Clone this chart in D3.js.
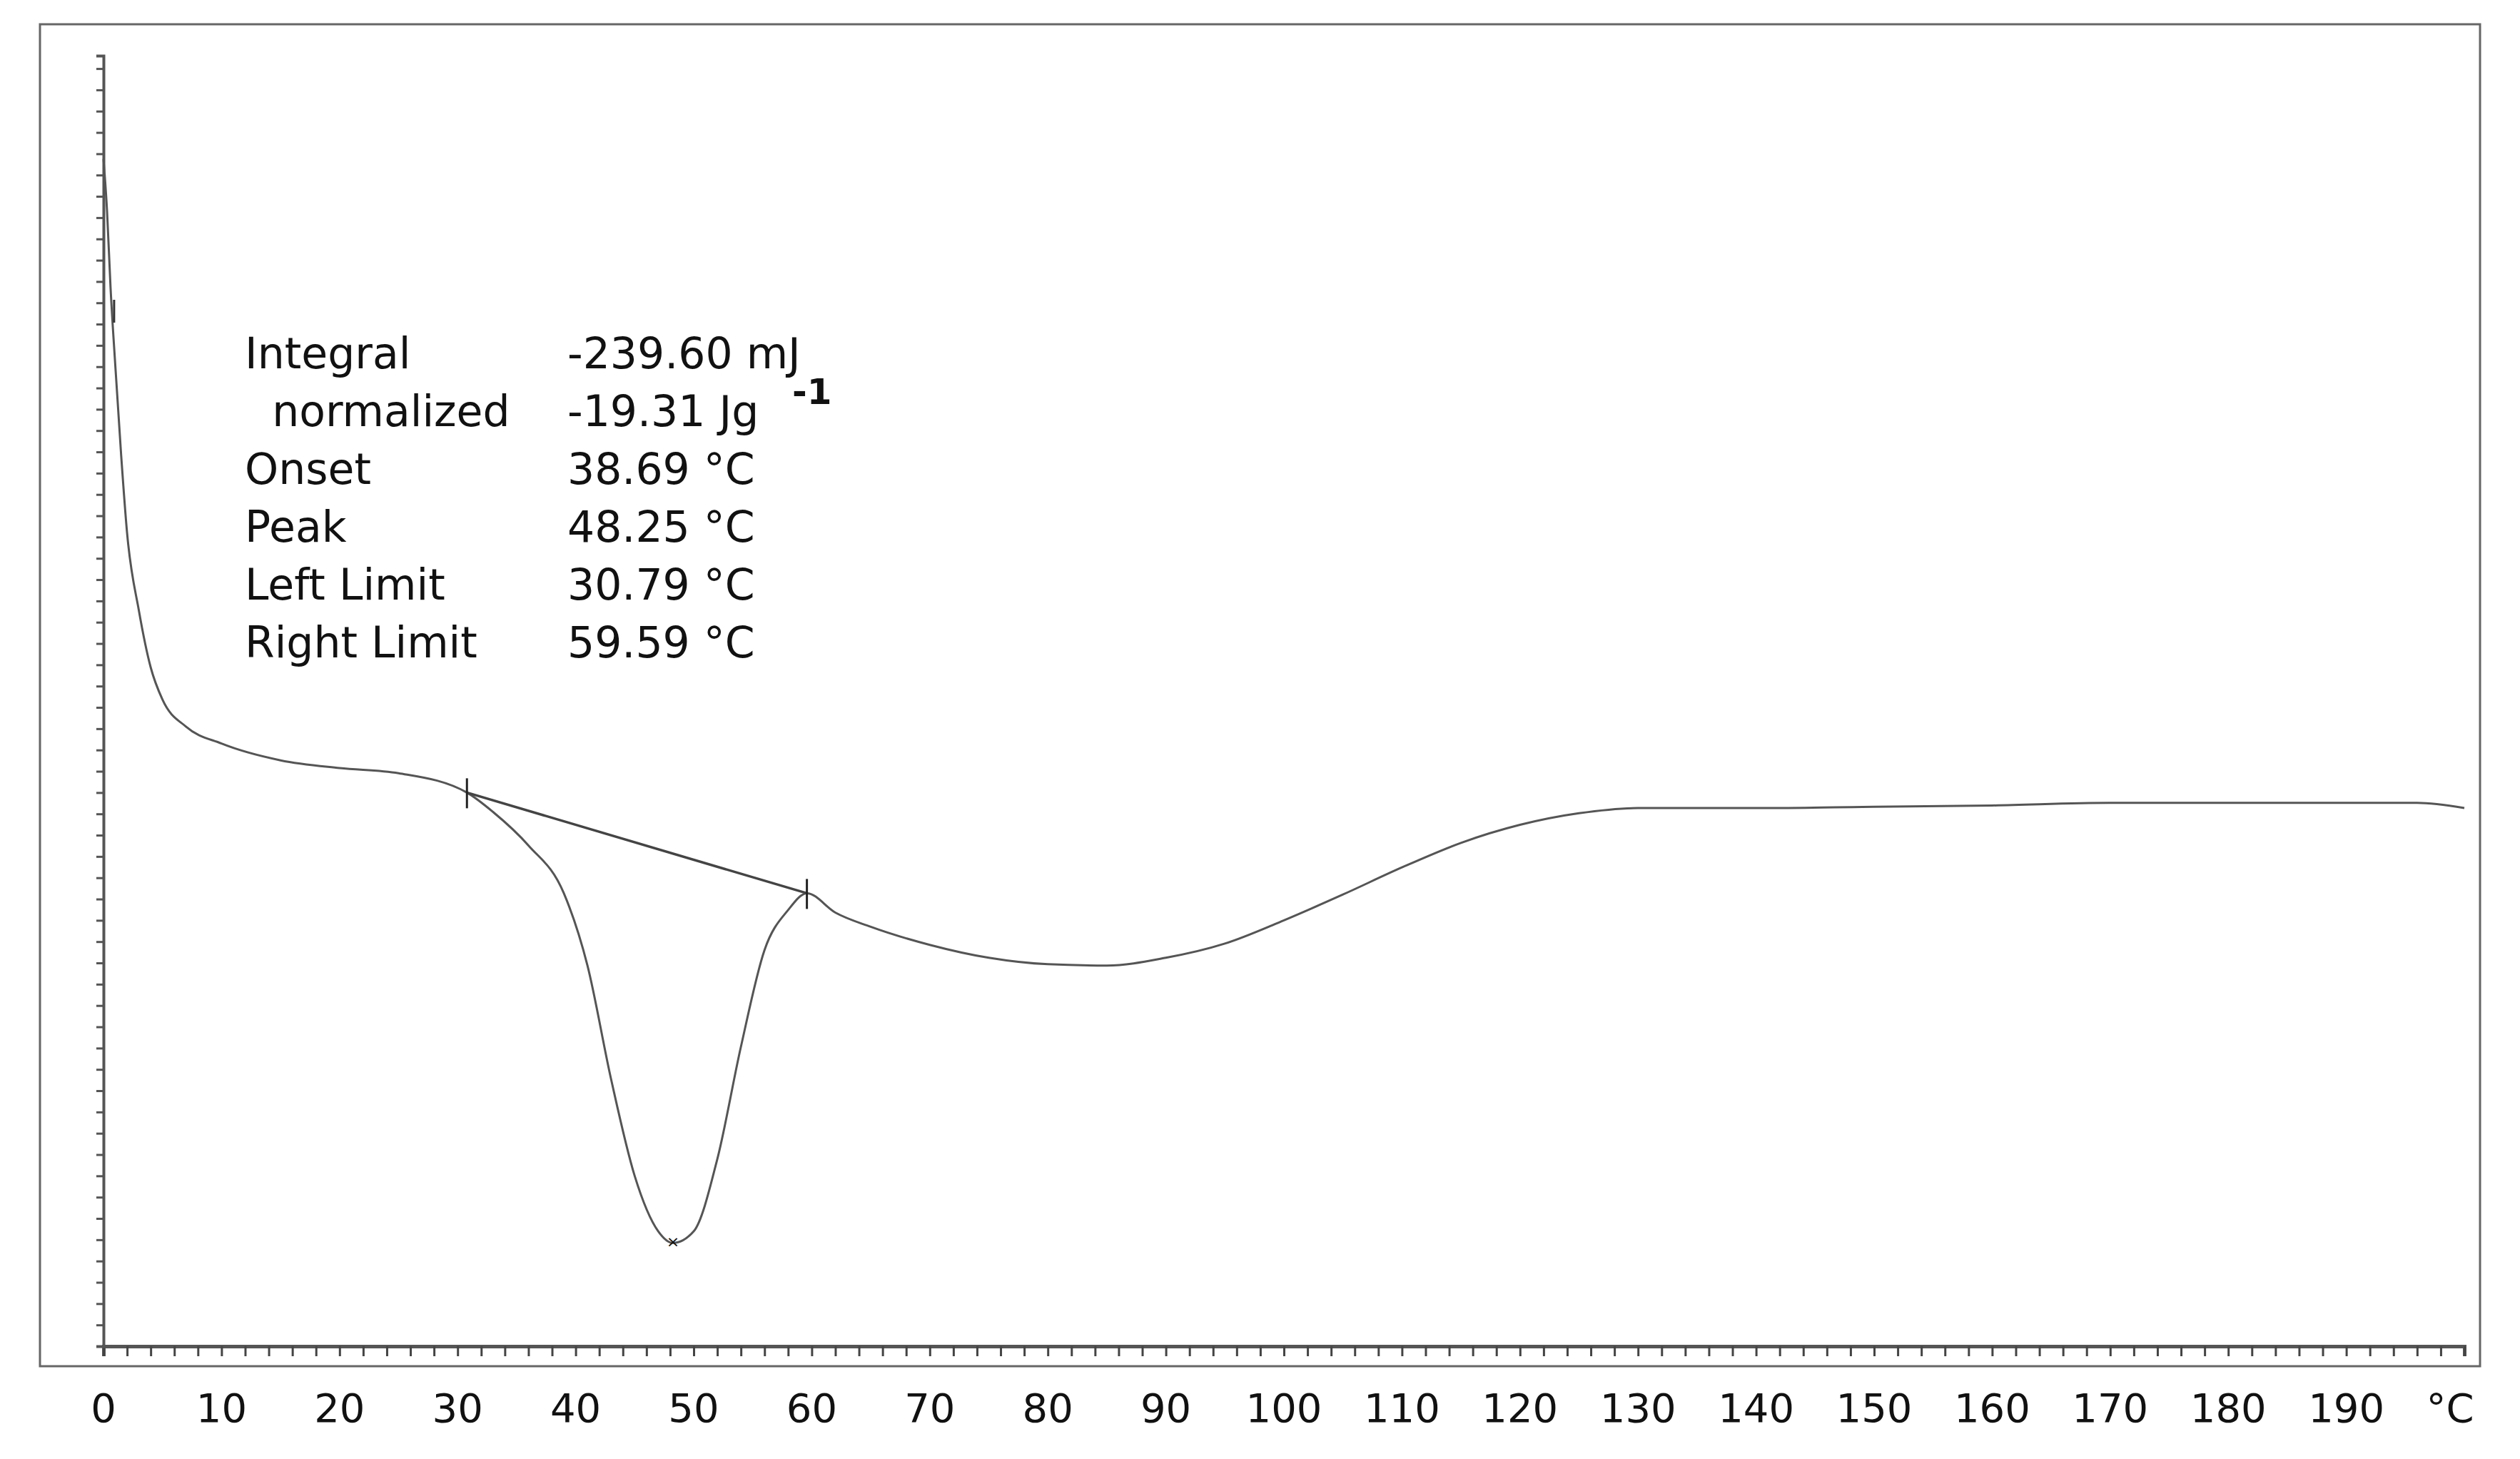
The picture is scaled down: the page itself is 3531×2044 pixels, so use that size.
<!DOCTYPE html>
<html>
<head>
<meta charset="utf-8">
<script src="https://cdn.jsdelivr.net/npm/d3@7"></script>
<style>
body { margin: 0; background: #fff; }
text { font-family: "DejaVu Sans", Verdana, sans-serif; fill: #111; }
</style>
</head>
<body>
<script>
// temperature (°C) and heat-flow signal (arbitrary units, 0 = bottom of plot, 100 = top)
let temps = [0, 0.3, 0.6, 1, 1.5, 2, 3, 4, 5, 7, 10, 15, 20, 25, 30.79, 33, 36, 39, 41, 43, 45, 47, 48.25, 50, 52, 54, 56, 58, 59.59,
    62, 65, 70, 75, 80, 85, 90, 95, 100, 105, 110, 115, 120, 125, 130, 140, 150, 160, 170, 180, 190, 196, 200];
let signal = [92, 88, 82, 76, 69, 63, 57, 52.6, 50.1, 48.0, 46.7, 45.4, 44.8, 44.4, 42.9, 41.4, 38.8, 35.1, 29.5, 20.7, 13.2, 8.9, 8.0, 8.9, 14.5, 23.2, 30.7, 33.8, 35.1,
    33.6, 32.5, 31.1, 30.1, 29.6, 29.5, 30.1, 31.2, 33.0, 35.0, 37.1, 39.0, 40.4, 41.3, 41.7, 41.7, 41.8, 41.9, 42.1, 42.1, 42.1, 42.1, 41.7];
let limits = [30.79, 59.59];
let peakT = 48.25;
let xTicks = d3.range(0, 200, 10);
let labels = ["Integral", "  normalized", "Onset", "Peak", "Left Limit", "Right Limit"];
let values = ["-239.60 mJ", "-19.31 Jg", "38.69 \u00b0C", "48.25 \u00b0C", "30.79 \u00b0C", "59.59 \u00b0C"];

let svgWidth = 3531, svgHeight = 2044;
let svg = d3.select("body").append("svg")
    .attr("width", svgWidth).attr("height", svgHeight);

// outer frame
svg.append("rect").attr("x", 56).attr("y", 34).attr("width", 3419).attr("height", 1880)
    .attr("fill", "none").attr("stroke", "#666").attr("stroke-width", 3);

let x = d3.scaleLinear().domain([0, 200]).range([145, 3453]);
let y = d3.scaleLinear().domain([0, 100]).range([1886, 78]);

let data = temps.map((t, i) => ({t: t, v: signal[i]}));
let vAt = t => d3.scaleLinear().domain(temps).range(signal)(t);

// x axis
let xAxis = svg.append("g").attr("transform", `translate(0,${y(0)})`)
    .call(d3.axisBottom(x).tickValues(d3.range(0, 201, 2)).tickSize(14).tickFormat(""));
xAxis.select(".domain").attr("stroke", "#555").attr("stroke-width", 5);
xAxis.selectAll(".tick line").attr("stroke", "#444").attr("stroke-width", 3);

svg.append("g").selectAll("text").data(xTicks).join("text")
    .attr("x", d => x(d)).attr("y", 1992).attr("text-anchor", "middle")
    .attr("font-size", 56).text(d => d);
svg.append("text").attr("x", x(200) - 20).attr("y", 1992).attr("text-anchor", "middle")
    .attr("font-size", 56).text("\u00b0C");

// y axis (ticks only, no labels)
let yAxis = svg.append("g").attr("transform", `translate(${x(0)},0)`)
    .call(d3.axisLeft(y).tickValues(d3.range(0, 100, 1.65)).tickSize(10).tickFormat(""));
yAxis.select(".domain").attr("stroke", "#555").attr("stroke-width", 4);
yAxis.selectAll(".tick line").attr("stroke", "#555").attr("stroke-width", 3);

// curve
let line = d3.line().x(d => x(d.t)).y(d => y(d.v)).curve(d3.curveMonotoneX);
svg.append("path").datum(data).attr("d", line)
    .attr("fill", "none").attr("stroke", "#555").attr("stroke-width", 3);

// integration baseline
svg.append("line")
    .attr("x1", x(limits[0])).attr("y1", y(vAt(limits[0])))
    .attr("x2", x(limits[1])).attr("y2", y(vAt(limits[1])))
    .attr("stroke", "#444").attr("stroke-width", 3.5);

// limit markers
svg.append("g").selectAll("line").data(limits).join("line")
    .attr("x1", d => x(d)).attr("x2", d => x(d))
    .attr("y1", d => y(vAt(d)) - 20).attr("y2", d => y(vAt(d)) + 22)
    .attr("stroke", "#222").attr("stroke-width", 3);
svg.append("text").attr("x", x(peakT)).attr("y", y(vAt(peakT)) + 6)
    .attr("text-anchor", "middle").attr("font-size", 22).text("\u00d7");

// start marker
svg.append("line").attr("x1", x(0.9)).attr("x2", x(0.9)).attr("y1", 420).attr("y2", 452)
    .attr("stroke", "#333").attr("stroke-width", 3);

// result table
let tbl = svg.append("g");
tbl.selectAll("text.lab").data(labels).join("text").attr("class", "lab")
    .attr("x", 343).attr("y", (d, i) => 516 + i * 81)
    .attr("font-size", 60).attr("xml:space", "preserve").text(d => d);
tbl.selectAll("text.val").data(values).join("text").attr("class", "val")
    .attr("x", 795).attr("y", (d, i) => 516 + i * 81)
    .attr("font-size", 60).text(d => d);
tbl.append("text").attr("x", 1110).attr("y", 566)
    .attr("font-size", 50).attr("font-weight", "bold").text("-1");
</script>
</body>
</html>
